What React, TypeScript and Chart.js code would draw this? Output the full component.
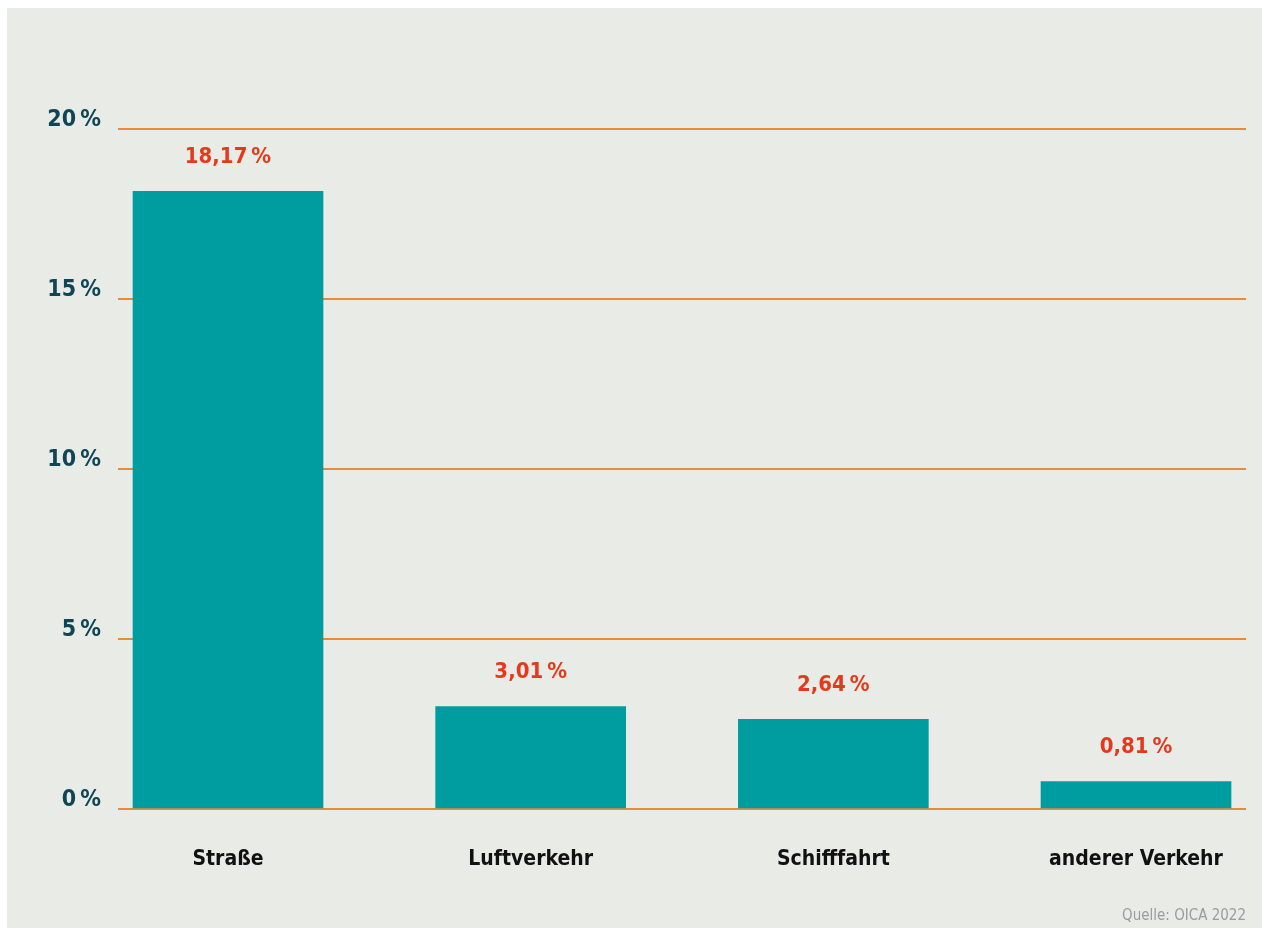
import React, { useEffect, useRef } from "react";
import { Chart, registerables } from "chart.js";

Chart.register(...registerables);

const categories = ["Straße", "Luftverkehr", "Schifffahrt", "anderer Verkehr"];
const values = [18.17, 3.01, 2.64, 0.81];
const valueLabels = ["18,17\u2009%", "3,01\u2009%", "2,64\u2009%", "0,81\u2009%"];
const yTicks = [0, 5, 10, 15, 20];
const sourceText = "Quelle: OICA 2022";

const FONT = "'DejaVu Sans Condensed', 'Liberation Sans Narrow', 'Roboto Condensed', sans-serif";
const BG = "#e9ebe6";
const BAR = "#009da0";
const GRID = "#e98b35";
const RED = "#e5391c";
const AXIS = "#0f4655";
const X_MIN = -0.36344;
const X_MAX = 3.3634;

const valueLabelPlugin = {
  id: "valueLabels",
  afterDatasetsDraw(chart: any) {
    const ctx = chart.ctx;
    const meta = chart.getDatasetMeta(0);
    ctx.save();
    ctx.fillStyle = RED;
    ctx.font = `bold 22px ${FONT}`;
    ctx.textAlign = "center";
    ctx.textBaseline = "middle";
    meta.data.forEach((el: any, i: number) => {
      ctx.fillText(valueLabels[i], el.x, el.y - 34);
    });
    ctx.restore();
  },
};

const sourcePlugin = {
  id: "source",
  afterDraw(chart: any) {
    const ctx = chart.ctx;
    ctx.save();
    ctx.fillStyle = "#9a9c99";
    ctx.font = `15px ${FONT}`;
    ctx.textAlign = "right";
    ctx.textBaseline = "middle";
    ctx.fillText(sourceText, chart.chartArea.right, 908);
    ctx.restore();
  },
};

export default function App() {
  const ref = useRef<HTMLCanvasElement>(null);
  useEffect(() => {
    if (!ref.current) return;
    const chart = new Chart(ref.current, {
      type: "bar",
      data: {
        datasets: [
          {
            data: values.map((v, i) => ({ x: i, y: v })),
            backgroundColor: BAR,
            barThickness: 190,
          },
        ],
      },
      options: {
        animation: false,
        responsive: false,
        maintainAspectRatio: false,
        layout: { padding: { top: 121, right: 16, left: 0, bottom: 0 } },
        plugins: { legend: { display: false }, tooltip: { enabled: false } },
        scales: {
          x: {
            type: "linear",
            offset: false,
            bounds: "data",
            min: X_MIN,
            max: X_MAX,
            grid: { display: false },
            border: { display: false },
            afterDataLimits: (axis: any) => {
              axis.min = X_MIN;
              axis.max = X_MAX;
            },
            afterBuildTicks: (axis: any) => {
              axis.ticks = categories.map((_, i) => ({ value: i }));
              axis.min = X_MIN;
              axis.max = X_MAX;
            },
            afterFit: (axis: any) => {
              axis.height = 119;
            },
            ticks: {
              autoSkip: false,
              maxRotation: 0,
              padding: 30,
              color: "#111111",
              font: { family: FONT, size: 21, weight: "bold" },
              callback: (v: any) => categories[v as number] ?? "",
            },
          },
          y: {
            min: 0,
            max: 20,
            afterBuildTicks: (axis: any) => {
              axis.ticks = yTicks.map((v) => ({ value: v }));
            },
            afterFit: (axis: any) => {
              axis.width = 111;
            },
            grid: { color: GRID, lineWidth: 2, drawTicks: false },
            border: { display: false },
            ticks: {
              padding: 17,
              labelOffset: -9,
              color: AXIS,
              font: { family: FONT, size: 23, weight: "bold" },
              callback: (v: any) => `${v}\u2009%`,
            },
          },
        },
      },
      plugins: [valueLabelPlugin, sourcePlugin],
    } as any);
    return () => chart.destroy();
  }, []);
  return (
    <div style={{ position: "absolute", left: 7, top: 8, width: 1255, height: 920, background: BG }}>
      <canvas ref={ref} width={1255} height={920} style={{ display: "block" }} />
    </div>
  );
}
